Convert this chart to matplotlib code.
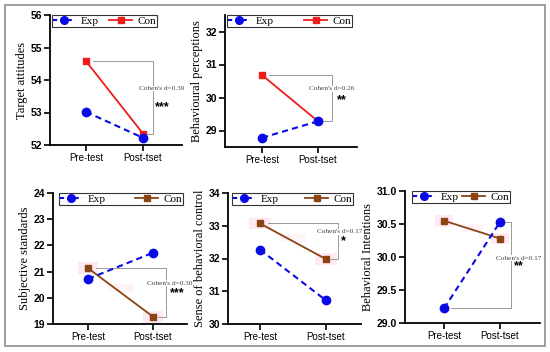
import matplotlib
matplotlib.use("Agg")
import matplotlib.pyplot as plt
from matplotlib.patches import Rectangle
from matplotlib.lines import Line2D

W, H = 550, 352
fig = plt.figure(figsize=(W / 100, H / 100), dpi=100)

phases = ["Pre-test", "Post-tset"]

ta_exp = [53.02, 52.22]
ta_con = [54.58, 52.35]
bp_exp = [28.78, 29.28]
bp_con = [30.68, 29.28]
ss_exp = [20.72, 21.72]
ss_con = [21.13, 19.28]
sbc_exp = [32.27, 30.72]
sbc_con = [33.07, 31.98]
bi_exp = [29.22, 30.53]
bi_con = [30.55, 30.28]

effects = ["Cohen's d=0.30", "Cohen's d=0.26", "Cohen's d=0.30", "Cohen's d=0.17", "Cohen's d=0.17"]
stars = ["***", "**", "***", "*", "**"]

SERIF = "Liberation Serif"
SANS = "Liberation Sans"
BLUE = "#0a0ae6"
RED = "#ee1c1c"
BROWN = "#8b4513"
GRAY = "#9a9a9a"

# border
fig.add_artist(Rectangle((5 / W, 1 - 346 / H), 540 / W, 341 / H, transform=fig.transFigure,
                         fill=False, edgecolor="#8c8c8c", lw=1.2))


def make_ax(l, r, t, b):
    return fig.add_axes([l / W, 1 - b / H, (r - l) / W, (b - t) / H])


panels = [
    dict(box=(50, 182, 15, 145), px=(86, 143), ylim=(52, 56), ticks=[52, 53, 54, 55, 56],
         fmt="{:.0f}", exp=ta_exp, con=ta_con, ccol=RED, label="Target attitudes",
         br=("top", 1.18), txt=(1.33, 53.74), st=(1.33, 53.16), leg=(52, 157, 12)),
    dict(box=(225, 357, 15, 147), px=(262, 318), ylim=(28.5, 32.5), ticks=[29, 30, 31, 32],
         fmt="{:.0f}", exp=bp_exp, con=bp_con, ccol=RED, label="Behavioural perceptions",
         br=("top", 1.25), txt=(1.25, 30.27), st=(1.43, 29.93), leg=(227, 352, 12)),
    dict(box=(53, 187, 193, 324), px=(88, 153), ylim=(19, 24), ticks=[19, 20, 21, 22, 23, 24],
         fmt="{:.0f}", exp=ss_exp, con=ss_con, ccol=BROWN, label="Subjective standards",
         br=("top", 1.2), txt=(1.25, 20.56), st=(1.38, 20.18), pink=True, leg=(59, 183, 14)),
    dict(box=(228, 361, 193, 324), px=(260, 326), ylim=(30, 34), ticks=[30, 31, 32, 33, 34],
         fmt="{:.0f}", exp=sbc_exp, con=sbc_con, ccol=BROWN, label="Sense of behavioral control",
         br=("top", 1.18), txt=(1.21, 32.81), st=(1.27, 32.53), pink=True, leg=(232, 353, 13)),
    dict(box=(405, 540, 191, 323), px=(444, 500), ylim=(29, 31), ticks=[29.0, 29.5, 30.0, 30.5, 31.0],
         fmt="{:.1f}", exp=bi_exp, con=bi_con, ccol=BROWN, label="Behavioral Intentions",
         br=("exp", 1.2), txt=(1.34, 29.98), st=(1.34, 29.86), pink=True, leg=(412, 510, 13)),
]

for i, p in enumerate(panels):
    l, r, t, b = p["box"]
    ax = make_ax(l, r, t, b)
    p0, p1 = p["px"]
    u = p1 - p0
    ax.set_xlim((l - p0) / u, (r - p0) / u)
    ax.set_ylim(*p["ylim"])
    x = [0, 1]
    if p.get("pink"):
        yr = p["ylim"][1] - p["ylim"][0]
        for xi, yi in zip(x, p["con"]):
            ax.add_patch(Rectangle((xi - 0.16, yi - 0.045 * yr), 0.32, 0.09 * yr,
                                   facecolor="#ffe0f0", edgecolor="none", alpha=0.7, zorder=1))
        ax.add_patch(Rectangle((0.3, (p["con"][0] * 0.6 + p["con"][1] * 0.4) - 0.03 * yr), 0.4, 0.06 * yr,
                               facecolor="#ffeef6", edgecolor="none", alpha=0.7, zorder=1))
    ax.plot(x, p["exp"], color=BLUE, ls=(0, (3, 2)), lw=1.5, marker="o", ms=6, zorder=4, clip_on=False)
    ax.plot(x, p["con"], color=p["ccol"], ls="-", lw=1.3, marker="s", ms=5, zorder=3, clip_on=False)

    kind, bx = p["br"]
    if kind == "top":
        ytop, ybot = p["con"][0], p["con"][1]
        ax.plot([0.12, bx, bx, 1.07], [ytop, ytop, ybot, ybot], color=GRAY, lw=0.7, zorder=2)
    else:
        ytop, ybot = p["exp"][1], p["exp"][0]
        ax.plot([1.07, bx, bx, 0.12], [ytop, ytop, ybot, ybot], color=GRAY, lw=0.7, zorder=2)
    ax.text(p["txt"][0], p["txt"][1], effects[i], family=SERIF, fontsize=5.2, color="#444444",
            ha="center", va="center", zorder=5,
            bbox=dict(facecolor="white", edgecolor="none", pad=0.3))
    ax.text(p["st"][0], p["st"][1], stars[i], family=SANS, fontsize=9, fontweight="bold",
            color="black", ha="center", va="center", zorder=5)

    for s in ["top", "right"]:
        ax.spines[s].set_visible(False)
    for s in ["left", "bottom"]:
        ax.spines[s].set_linewidth(1.3)
    ax.set_xticks(x)
    ax.set_xticklabels(phases, family=SANS, fontsize=7)
    ax.set_yticks(p["ticks"])
    ax.set_yticklabels([p["fmt"].format(v) for v in p["ticks"]], family=SANS, fontsize=7.5,
                       fontweight="bold")
    ax.tick_params(axis="both", direction="out", length=4, width=1.2, pad=1.5)
    ax.set_ylabel(p["label"], family=SERIF, fontsize=9, labelpad=2)

    handles = [
        Line2D([], [], color=BLUE, ls=(0, (2, 1.5)), lw=1.5, marker="o", ms=5.5),
        Line2D([], [], color=p["ccol"], ls="-", lw=1.3, marker="s", ms=4.5),
    ]
    ll, lr, lh = p["leg"]
    ax_w = r - l
    ax_h = b - t
    bb = ((ll - l) / ax_w, 1 - lh / ax_h, (lr - ll) / ax_w, lh / ax_h)
    leg = ax.legend(handles, ["Exp", "Con"], ncol=2, loc="upper left", mode="expand",
                    bbox_to_anchor=bb, frameon=True, fancybox=False,
                    prop={"family": SERIF, "size": 8}, handlelength=2.0, columnspacing=1.0,
                    handletextpad=0.5, borderpad=0.1, borderaxespad=0.0)
    leg.get_frame().set_edgecolor("black")
    leg.get_frame().set_linewidth(0.8)
    leg.set_zorder(6)

fig.savefig("out.png", dpi=100)
